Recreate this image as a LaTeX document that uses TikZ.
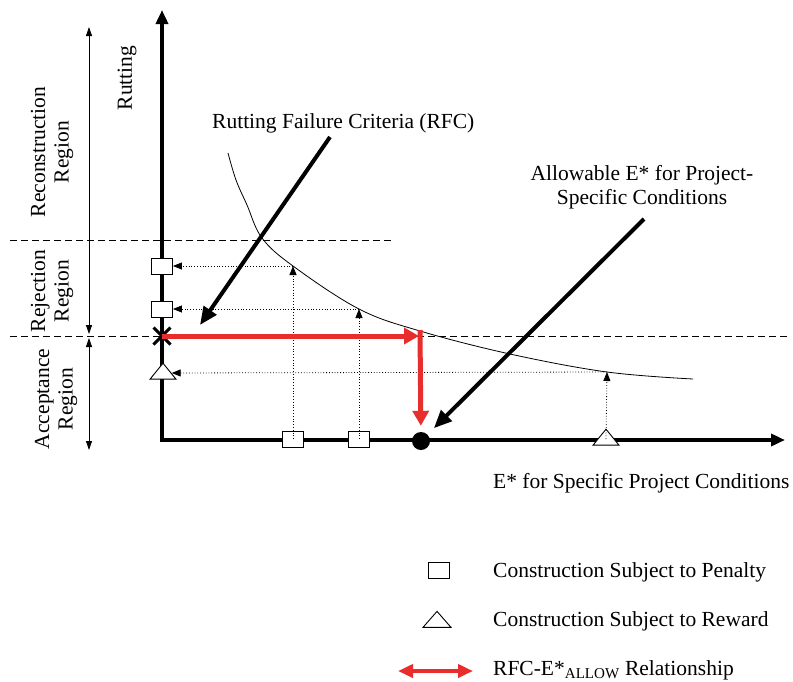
\documentclass[tikz,border=0pt]{standalone}
\usepackage{fontspec}
\setmainfont{Liberation Serif}
\usetikzlibrary{arrows.meta,shapes.geometric,shapes.misc}
\definecolor{rfcred}{RGB}{232,45,45}
\tikzset{%
  axis/.style = { line width=3.5pt, line join=miter, {Triangle[length=14pt,width=12pt]}-{Triangle[length=14pt,width=12pt]} },
  region/.style = { line width=0.8pt, {Triangle[length=9pt,width=6pt]}-{Triangle[length=9pt,width=6pt]} },
  limit/.style = { line width=0.8pt, dash pattern=on 6.5pt off 4.5pt },
  curve/.style = { line width=0.8pt },
  probe/.style = { line width=0.8pt, dotted, -{Triangle[length=9pt,width=7pt]} },
  pointer/.style = { line width=4pt, -{Triangle[length=18pt,width=15pt]} },
  relation/.style = { draw=rfcred, line width=5pt, -{Triangle[length=15pt,width=16pt]} },
  txt/.style = { font=\fontsize{21.5}{23.5}\selectfont, inner sep=0pt, align=center },
  penalty/.style = { draw, fill=white, line width=0.9pt, inner sep=0pt, minimum width=21pt, minimum height=16pt },
  reward/.style = { draw, fill=white, line width=0.9pt, inner sep=0pt, isosceles triangle, isosceles triangle stretches, shape border rotate=90, minimum width=26pt, minimum height=16pt },
  xmark/.style = { draw, cross out, line width=3pt, minimum size=14pt, inner sep=0pt },
  allow/.style = { circle, fill=black, minimum size=18pt, inner sep=0pt }
}
\begin{document}
\begin{tikzpicture}[x=1pt,y=-1pt]
  \useasboundingbox (0,0) rectangle (793,681);

  % Region limits
  \draw[limit] (10,240) -- (395,240);
  \draw[limit] (10,336) -- (790,336);

  % Region arrows
  \draw[region] (89,27) -- (89,334);
  \draw[region] (89,338) -- (89,450);
  \node[txt,rotate=90] (recon) at (52,152) {Reconstruction\\Region};
  \node[txt,rotate=90] (reject) at (52,291) {Rejection\\Region};
  \node[txt,rotate=90] (accept) at (56,399) {Acceptance\\Region};

  % Axes
  \coordinate (ytip) at (162,10);
  \coordinate (origin) at (162,440);
  \coordinate (xtip) at (785,440);
  \draw[axis] (ytip) -- (origin) -- (xtip);
  \node[txt,rotate=90] (rutting) at (127,78) {Rutting};
  \node[txt,anchor=base west] (xlabel) at (493,488) {E* for Specific Project Conditions};

  % Rutting failure criteria
  \draw[curve] plot[smooth,tension=0.6] coordinates {(228,153) (236,180) (247,205) (262,238) (293,266) (359,309) (420,331) (510,354) (607,372) (693,379)};
  \coordinate (cA) at (293,266);
  \coordinate (cB) at (359,309);
  \coordinate (cC) at (607,372);

  % Markers
  \node[penalty] (pyA) at (162,266) {};
  \node[penalty] (pyB) at (162,309) {};
  \node[reward] (ry) at (163,373) {};
  \node[penalty] (pxA) at (293,439) {};
  \node[penalty] (pxB) at (359,439) {};
  \node[reward] (rx) at (606,439) {};
  \node[xmark] (xm) at (162,336) {};
  \node[allow] (eallow) at (421,441) {};

  % Probes
  \draw[probe] (pxA.center) -- (cA);
  \draw[probe] (cA) -- (pyA);
  \draw[probe] (pxB.center) -- (cB);
  \draw[probe] (cB) -- (pyB);
  \draw[probe] (rx.center) -- (cC);
  \draw[probe] (cC) -- (ry);

  % RFC - E* relation
  \coordinate (rfc) at (419,336);
  \coordinate (atop) at (420,330);
  \draw[relation] (xm.center) -- (rfc);
  \draw[relation,shorten >=6pt] (atop) -- (eallow);

  % Pointers
  \node[txt,anchor=base west] (rfctext) at (212,128) {Rutting Failure Criteria (RFC)};
  \coordinate (rfcfoot) at (330,137);
  \coordinate (rfctip) at (200,325);
  \draw[pointer] (rfcfoot) -- (rfctip);
  \node[txt] (allowtext) at (642,187) {Allowable E* for Project-\\Specific Conditions};
  \coordinate (allowfoot) at (644,219);
  \draw[pointer,shorten >=9pt] (allowfoot) -- (eallow);

  % Legend
  \node[penalty] (lgP) at (438.5,570) {};
  \node[txt,anchor=base west] (lgPtext) at (493,577) {Construction Subject to Penalty};
  \node[reward,minimum width=28pt] (lgR) at (437,621) {};
  \node[txt,anchor=base west] (lgRtext) at (493,626) {Construction Subject to Reward};
  \coordinate (lgA) at (398,671);
  \coordinate (lgB) at (473,671);
  \draw[relation,line width=4pt,{Triangle[length=15pt,width=13pt]}-{Triangle[length=15pt,width=13pt]}] (lgA) -- (lgB);
  \node[txt,anchor=base west] (lgAtext) at (493,675) {RFC-E*\textsubscript{ALLOW} Relationship};

\end{tikzpicture}
\end{document}
